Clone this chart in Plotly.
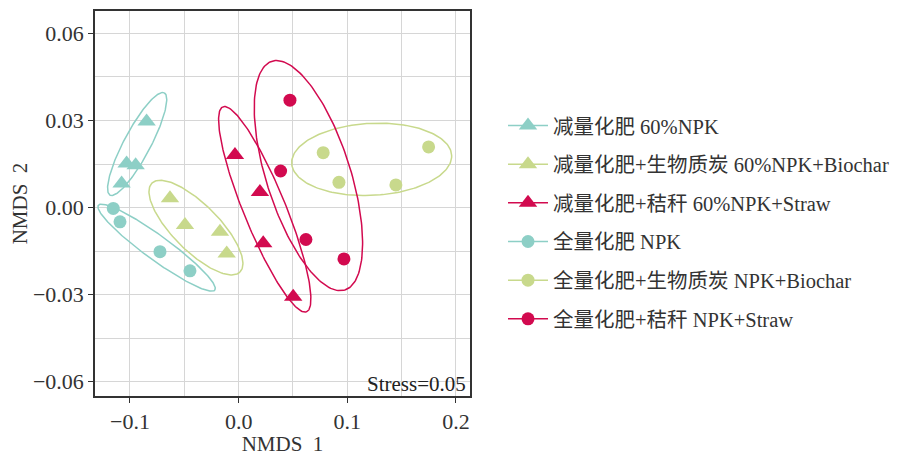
import numpy as np
import plotly.graph_objects as go

# ---------------- data ----------------
groups = [
    "减量化肥 60%NPK",
    "减量化肥+生物质炭 60%NPK+Biochar",
    "减量化肥+秸秆 60%NPK+Straw",
    "全量化肥 NPK",
    "全量化肥+生物质炭 NPK+Biochar",
    "全量化肥+秸秆 NPK+Straw",
]

npk60_x = [-0.0847, -0.1031, -0.0948, -0.1077]
npk60_y = [0.0296, 0.0152, 0.0146, 0.0083]

npk60_biochar_x = [-0.0632, -0.0494, -0.0172, -0.0110]
npk60_biochar_y = [0.0032, -0.0060, -0.0083, -0.0158]

npk60_straw_x = [-0.0034, 0.0196, 0.0226, 0.0502]
npk60_straw_y = [0.0181, 0.0054, -0.0123, -0.0307]

npk_x = [-0.1154, -0.1092, -0.0724, -0.0448]
npk_y = [-0.0003, -0.0049, -0.0152, -0.0218]

npk_biochar_x = [0.0778, 0.0923, 0.1447, 0.1748]
npk_biochar_y = [0.0189, 0.0087, 0.0078, 0.0209]

npk_straw_x = [0.0472, 0.0386, 0.0619, 0.0969]
npk_straw_y = [0.0370, 0.0126, -0.0110, -0.0177]

xs = [npk60_x, npk60_biochar_x, npk60_straw_x, npk_x, npk_biochar_x, npk_straw_x]
ys = [npk60_y, npk60_biochar_y, npk60_straw_y, npk_y, npk_biochar_y, npk_straw_y]

# confidence ellipses: centre, major half-axis vector (data units), minor/major ratio
ell_cx = [-0.0934, -0.0393, 0.0240, -0.0755, 0.1224, 0.0642]
ell_cy = [0.0219, -0.0069, -0.0006, -0.0138, 0.0166, 0.0110]
ell_ux = [0.0250, 0.0405, 0.0385, 0.0536, 0.0736, 0.0336]
ell_uy = [0.0176, -0.0153, -0.0353, -0.0146, 0.0014, -0.0394]
ell_ratio = [0.23, 0.37, 0.19, 0.17, 0.45, 0.35]

x_ticks = [-0.1, 0.0, 0.1, 0.2]
y_ticks = [-0.06, -0.03, 0.0, 0.03, 0.06]
stress_label = "Stress=0.05"

# ---------------- styling ----------------
TEAL = "#8dcfc6"
GREEN = "#c8d98c"
RED = "#d20a4f"
colors = [TEAL, GREEN, RED, TEAL, GREEN, RED]
symbols = ["triangle-up"] * 3 + ["circle"] * 3
sizes = [16] * 3 + [13] * 3

XR = [-0.1322, 0.2129]
YR = [-0.0649, 0.0677]
# the page body has an 8px margin, so the figure is 8px smaller than the window
W, H = 900, 448
ML, MR, MT, MB = 87, 438, 3, 60
PW, PH = W - ML - MR, H - MT - MB
sx = PW / (XR[1] - XR[0])
sy = PH / (YR[1] - YR[0])

SERIF = "Liberation Serif, Times New Roman, serif"
LEG_FONT = "Liberation Serif, Noto Sans CJK SC, serif"

fig = go.Figure()

# ellipses
t = np.linspace(0, 2 * np.pi, 200)
for i in range(6):
    uvx, uvy = ell_ux[i] * sx, ell_uy[i] * sy
    vvx, vvy = -ell_ratio[i] * uvy, ell_ratio[i] * uvx
    vx, vy = vvx / sx, vvy / sy
    ex = ell_cx[i] + ell_ux[i] * np.cos(t) + vx * np.sin(t)
    ey = ell_cy[i] + ell_uy[i] * np.cos(t) + vy * np.sin(t)
    fig.add_trace(go.Scatter(x=ex, y=ey, mode="lines",
                             line=dict(color=colors[i], width=1.5),
                             showlegend=False, hoverinfo="skip"))

# points
for i in range(6):
    fig.add_trace(go.Scatter(x=xs[i], y=ys[i], mode="markers",
                             marker=dict(symbol=symbols[i], size=sizes[i],
                                         color=colors[i], line=dict(width=0)),
                             name=groups[i], showlegend=False))

# legend entries
for i in range(6):
    fig.add_trace(go.Scatter(x=[None], y=[None], mode="lines+markers",
                             marker=dict(symbol=symbols[i], size=sizes[i],
                                         color=colors[i], line=dict(width=0)),
                             line=dict(color=colors[i], width=1.5),
                             name=groups[i], legendgroup=str(i)))

axis_common = dict(
    showline=True, mirror=True, linecolor="#333333", linewidth=1.5,
    showgrid=True, gridcolor="#d6d6d6", gridwidth=1.3,
    ticks="outside", ticklen=5, tickcolor="#333333", tickwidth=1.2,
    zeroline=False, automargin=False,
    tickfont=dict(family=SERIF, size=22, color="#333333"),
)

fig.update_xaxes(range=XR, tickvals=x_ticks, tickformat=".1f",
                 minor=dict(dtick=0.05, tick0=0, showgrid=True,
                            gridcolor="#d6d6d6", gridwidth=1.3, ticks=""),
                 title=dict(text="NMDS\u00a0\u00a01", standoff=9,
                            font=dict(family=SERIF, size=21, color="#333333")),
                 **axis_common)
fig.update_yaxes(range=YR, tickvals=y_ticks, tickformat=".2f",
                 minor=dict(dtick=0.015, tick0=0, showgrid=True,
                            gridcolor="#d6d6d6", gridwidth=1.3, ticks=""),
                 title=dict(text="NMDS\u00a0\u00a02", standoff=9,
                            font=dict(family=SERIF, size=21, color="#333333")),
                 **axis_common)

fig.add_annotation(x=0.994, y=0.031, xref="paper", yref="paper",
                   xanchor="right", yanchor="middle", showarrow=False,
                   text=stress_label,
                   font=dict(family=SERIF, size=21, color="#222222"))

fig.update_layout(
    width=W, height=H,
    margin=dict(l=ML, r=MR, t=MT, b=MB, autoexpand=False),
    plot_bgcolor="white", paper_bgcolor="white",
    legend=dict(x=1.088, y=0.754, xanchor="left", yanchor="top",
                font=dict(family=LEG_FONT, size=20.5, color="#333333"),
                tracegroupgap=9, itemwidth=40, bgcolor="rgba(0,0,0,0)"),
    showlegend=True,
)

fig.write_html("out.html")
